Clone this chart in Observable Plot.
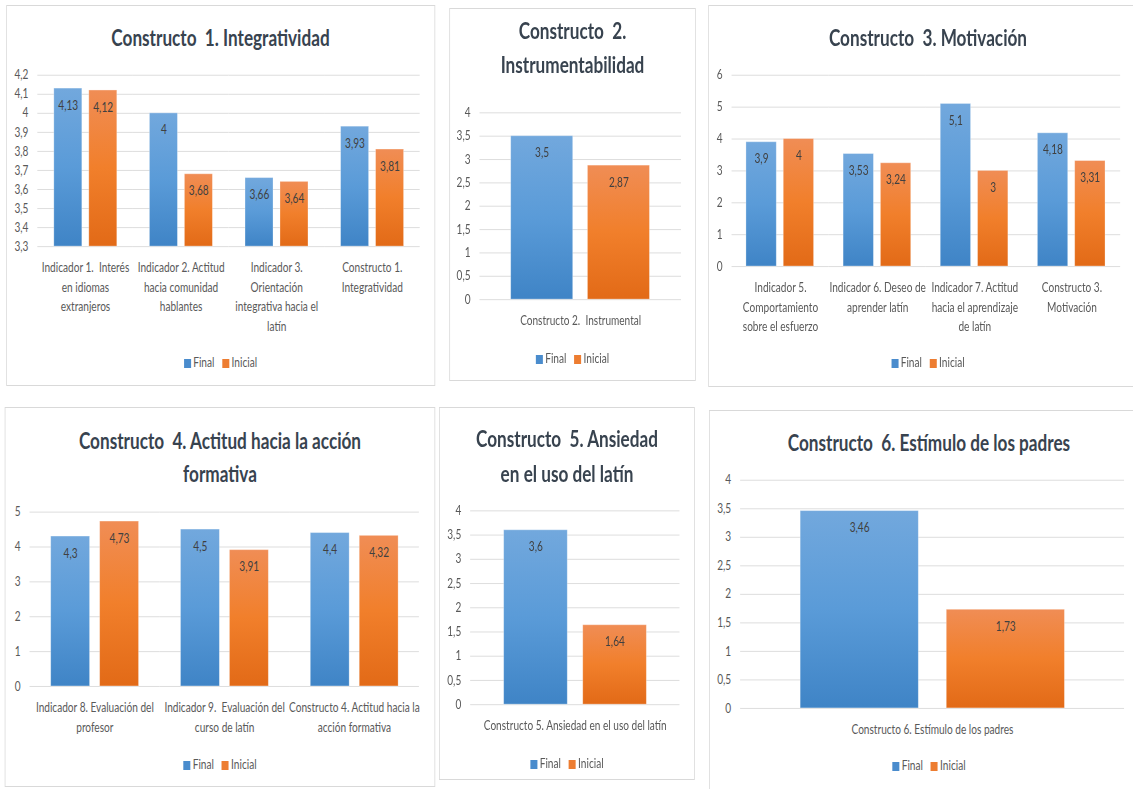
<!DOCTYPE html>
<html><head><meta charset="utf-8">
<script src="https://cdn.jsdelivr.net/npm/d3@7"></script>
<script src="https://cdn.jsdelivr.net/npm/@observablehq/plot@0.6"></script>
<style>
html,body{margin:0;padding:0;background:#fff;}
body{width:1133px;height:789px;overflow:hidden;position:relative;font-family:Lato,"Open Sans",sans-serif;}
#stage{position:absolute;left:0;top:0;height:789px;transform-origin:0 0;}
.panel{position:absolute;box-sizing:border-box;border:1px solid #d9d9d9;background:#fff;}
.title{position:absolute;left:0;right:0;text-align:center;font-weight:bold;font-size:22px;color:#38434f;line-height:30px;white-space:pre;}
.legend{position:absolute;left:0;right:0;text-align:center;font-size:13px;color:#595959;line-height:18px;white-space:pre;}
.sw{display:inline-block;width:9px;height:9px;margin-right:3px;vertical-align:-1px;}
.panel svg{position:absolute;top:-1px;overflow:visible;}
</style></head><body>
<svg width="0" height="0" style="position:absolute;left:0;top:0"><defs>
<linearGradient id="gFinal" x1="0" y1="0" x2="0" y2="1"><stop offset="0" stop-color="#72a8dd"/><stop offset="0.5" stop-color="#5a9bd8"/><stop offset="1" stop-color="#3f84c6"/></linearGradient>
<linearGradient id="gInicial" x1="0" y1="0" x2="0" y2="1"><stop offset="0" stop-color="#f08d55"/><stop offset="0.5" stop-color="#f17f2b"/><stop offset="1" stop-color="#e26a17"/></linearGradient>
</defs></svg>
<div id="stage"></div>
<script>
// ---------- data ----------
const series = ["Final", "Inicial"];

const title1 = ["Constructo  1. Integratividad"];
const cats1 = ["Indicador 1.  Interés en idiomas extranjeros", "Indicador 2. Actitud hacia comunidad hablantes", "Indicador 3. Orientación integrativa hacia el latín", "Constructo 1. Integratividad"];
const labels1 = ["Indicador 1.  Interés\nen idiomas\nextranjeros", "Indicador 2. Actitud\nhacia comunidad\nhablantes", "Indicador 3.\nOrientación\nintegrativa hacia el\nlatín", "Constructo 1.\nIntegratividad"];
const final1 = [4.13, 4, 3.66, 3.93];
const inicial1 = [4.12, 3.68, 3.64, 3.81];
const yTicks1 = [3.3, 3.4, 3.5, 3.6, 3.7, 3.8, 3.9, 4, 4.1, 4.2];

const title2 = ["Constructo  2.", "Instrumentabilidad"];
const cats2 = ["Constructo 2.  Instrumental"];
const labels2 = ["Constructo 2.  Instrumental"];
const final2 = [3.5];
const inicial2 = [2.87];
const yTicks2 = [0, 0.5, 1, 1.5, 2, 2.5, 3, 3.5, 4];

const title3 = ["Constructo  3. Motivación"];
const cats3 = ["Indicador 5. Comportamiento sobre el esfuerzo", "Indicador 6. Deseo de aprender latín", "Indicador 7. Actitud hacia el aprendizaje de latín", "Constructo 3. Motivación"];
const labels3 = ["Indicador 5.\nComportamiento\nsobre el esfuerzo", "Indicador 6. Deseo de\naprender latín", "Indicador 7. Actitud\nhacia el aprendizaje\nde latín", "Constructo 3.\nMotivación"];
const final3 = [3.9, 3.53, 5.1, 4.18];
const inicial3 = [4, 3.24, 3, 3.31];
const yTicks3 = [0, 1, 2, 3, 4, 5, 6];

const title4 = ["Constructo  4. Actitud hacia la acción", "formativa"];
const cats4 = ["Indicador 8. Evaluación del profesor", "Indicador 9.  Evaluación del curso de latín", "Constructo 4. Actitud hacia la acción formativa"];
const labels4 = ["Indicador 8. Evaluación del\nprofesor", "Indicador 9.  Evaluación del\ncurso de latín", "Constructo 4. Actitud hacia la\nacción formativa"];
const final4 = [4.3, 4.5, 4.4];
const inicial4 = [4.73, 3.91, 4.32];
const yTicks4 = [0, 1, 2, 3, 4, 5];

const title5 = ["Constructo  5. Ansiedad", "en el uso del latín"];
const cats5 = ["Constructo 5. Ansiedad en el uso del latín"];
const labels5 = ["Constructo 5. Ansiedad en el uso del latín"];
const final5 = [3.6];
const inicial5 = [1.64];
const yTicks5 = [0, 0.5, 1, 1.5, 2, 2.5, 3, 3.5, 4];

const title6 = ["Constructo  6. Estímulo de los padres"];
const cats6 = ["Constructo 6. Estímulo de los padres"];
const labels6 = ["Constructo 6. Estímulo de los padres"];
const final6 = [3.46];
const inicial6 = [1.73];
const yTicks6 = [0, 0.5, 1, 1.5, 2, 2.5, 3, 3.5, 4];

// ---------- layout (real pixels) ----------
const SX = 0.78; // horizontal condensation of the whole figure
const panels = [
  {title: title1, cats: cats1, labels: labels1, final: final1, inicial: inicial1, ticks: yTicks1,
   box: {x: 6, y: 5, w: 429, h: 381}, plot: {l: 37, r: 422, t: 75, b: 247}, titleY: [37], legendY: 361, pi: 0.194, po: 0.434},
  {title: title2, cats: cats2, labels: labels2, final: final2, inicial: inicial2, ticks: yTicks2,
   box: {x: 449, y: 8, w: 247, h: 373}, plot: {l: 480, r: 683, t: 113, b: 301}, titleY: [30, 64], legendY: 357, pi: 0.192, po: 0.397},
  {title: title3, cats: cats3, labels: labels3, final: final3, inicial: inicial3, ticks: yTicks3,
   box: {x: 708, y: 5, w: 440, h: 382}, plot: {l: 731, r: 1124, t: 75, b: 267}, titleY: [37], legendY: 361, pi: 0.184, po: 0.385},
  {title: title4, cats: cats4, labels: labels4, final: final4, inicial: inicial4, ticks: yTicks4,
   box: {x: 5, y: 407, w: 430, h: 380}, plot: {l: 29, r: 421, t: 512, b: 687}, titleY: [440, 473], legendY: 763, pi: 0.2, po: 0.407},
  {title: title5, cats: cats5, labels: labels5, final: final5, inicial: inicial5, ticks: yTicks5,
   box: {x: 439, y: 407, w: 256, h: 373}, plot: {l: 470, r: 681, t: 511, b: 706}, titleY: [438, 473], legendY: 762, pi: 0.2, po: 0.419},
  {title: title6, cats: cats6, labels: labels6, final: final6, inicial: inicial6, ticks: yTicks6,
   box: {x: 709, y: 410, w: 440, h: 390}, plot: {l: 740, r: 1126, t: 480, b: 709}, titleY: [442], legendY: 764, pi: 0.19, po: 0.403}
];

const fmt = v => String(v).replace(".", ",");
const stage = document.getElementById("stage");
stage.style.width = (1133 / SX) + "px";
stage.style.transform = `scaleX(${SX})`;

for (const cfg of panels) {
  const data = [];
  cfg.cats.forEach((c, i) => {
    data.push({cat: c, series: "Final", value: cfg.final[i]});
    data.push({cat: c, series: "Inicial", value: cfg.inicial[i]});
  });
  const labelOf = new Map(cfg.cats.map((c, i) => [c, cfg.labels[i]]));
  const bx = cfg.box, pl = cfg.plot;
  const panel = document.createElement("div");
  panel.className = "panel";
  panel.style.left = (bx.x / SX) + "px";
  panel.style.top = bx.y + "px";
  panel.style.width = (bx.w / SX) + "px";
  panel.style.height = bx.h + "px";
  panel.style.borderLeftWidth = (1 / SX) + "px";
  panel.style.borderRightWidth = (1 / SX) + "px";
  stage.appendChild(panel);

  cfg.title.forEach((t, i) => {
    const d = document.createElement("div");
    d.className = "title";
    d.style.top = (cfg.titleY[i] - bx.y - 15) + "px";
    d.textContent = t;
    panel.appendChild(d);
  });

  const y0 = cfg.ticks[0], y1 = cfg.ticks[cfg.ticks.length - 1];
  const chart = Plot.plot({
    width: bx.w / SX,
    height: bx.h,
    marginLeft: (pl.l - bx.x) / SX,
    marginRight: (bx.x + bx.w - pl.r) / SX,
    marginTop: pl.t - bx.y,
    marginBottom: bx.y + bx.h - pl.b,
    style: {fontFamily: "Lato, 'Open Sans', sans-serif", fontSize: "13px", background: "transparent", overflow: "visible"},
    fx: {domain: cfg.cats, padding: 0, label: null},
    x: {domain: series, paddingInner: cfg.pi, paddingOuter: cfg.po, axis: null},
    y: {domain: [y0, y1], axis: null, label: null},
    color: {domain: series, range: ["url(#gFinal)", "url(#gInicial)"]},
    marks: [
      Plot.ruleY(cfg.ticks, {stroke: "#d9d9d9", strokeWidth: 1}),
      Plot.barY(data, {fx: "cat", x: "series", y1: y0, y2: "value", fill: "series", stroke: "#ffffff", strokeOpacity: 0.35, strokeWidth: 1}),
      Plot.text(data, {fx: "cat", x: "series", y: "value", text: d => fmt(d.value), dy: 17, fill: "#404040", fontSize: 13}),
      Plot.axisY({ticks: cfg.ticks, tickSize: 0, tickPadding: 12, tickFormat: fmt, fill: "#595959", label: null}),
      Plot.axisFx({anchor: "bottom", tickSize: 0, tickPadding: 12, tickFormat: d => labelOf.get(d), lineHeight: 1.5, fill: "#595959", label: null})
    ]
  });
  chart.style.left = (-1 / SX) + "px";
  panel.appendChild(chart);

  const lg = document.createElement("div");
  lg.className = "legend";
  lg.style.top = (cfg.legendY - bx.y - 9) + "px";
  lg.innerHTML = '<span class="sw" style="background:#4a8ccd"></span>Final   <span class="sw" style="background:#ed7d31"></span>Inicial';
  panel.appendChild(lg);
}
</script>
</body></html>
